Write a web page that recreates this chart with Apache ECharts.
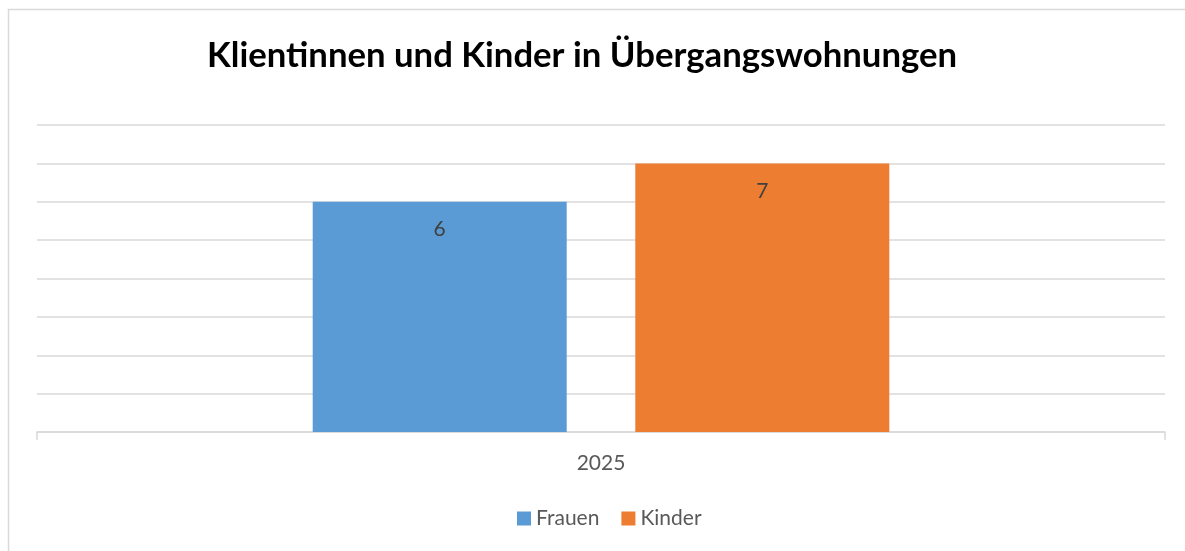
<!DOCTYPE html>
<html>
<head>
<meta charset="utf-8">
<script src="https://cdn.jsdelivr.net/npm/echarts@6/dist/echarts.min.js"></script>
<style>
	html, body { margin: 0; padding: 0; background: #fff; }
	#chart { width: 1185px; height: 551px; }
</style>
</head>
<body>
<div id="chart"></div>
<script>
var categories = ['2025'];
var frauen = [6];
var kinder = [7];
var yTicks = [0, 1, 2, 3, 4, 5, 6, 7, 8];

var chart = echarts.init(document.getElementById('chart'));

var labelStyle = {
	show: true,
	position: 'insideTop',
	distance: 17,
	color: '#404040',
	fontSize: 21,
	fontFamily: 'Lato'
};

var option = {
	animation: false,
	graphic: [{
		type: 'rect',
		shape: { x: 8.5, y: 9.5, width: 1200, height: 600 },
		style: { fill: 'none', stroke: '#D9D9D9', lineWidth: 1.5 },
		silent: true
	}],
	title: {
		text: 'Klientinnen und Kinder in Übergangswohnungen',
		left: 202,
		top: 33,
		textStyle: {
			fontFamily: 'Lato',
			fontWeight: 'bold',
			fontSize: 34.7,
			color: '#000'
		}
	},
	legend: {
		bottom: 17,
		left: 512,
		itemWidth: 14,
		itemHeight: 14,
		itemGap: 22,
		icon: 'rect',
		textStyle: { fontFamily: 'Lato', fontSize: 21, color: '#595959' },
		data: ['Frauen', 'Kinder']
	},
	grid: {
		left: 37,
		right: 20,
		top: 125,
		bottom: 119
	},
	xAxis: {
		type: 'category',
		data: categories,
		axisLine: { lineStyle: { color: '#D9D9D9', width: 1.5 } },
		axisTick: { show: true, length: 8, lineStyle: { color: '#D9D9D9', width: 1.5 } },
		axisLabel: { margin: 21, fontFamily: 'Lato', fontSize: 21, color: '#595959' }
	},
	yAxis: {
		type: 'value',
		min: yTicks[0],
		max: yTicks[yTicks.length - 1],
		interval: 1,
		axisLabel: { show: false },
		axisLine: { show: false },
		axisTick: { show: false },
		splitLine: { lineStyle: { color: '#D9D9D9', width: 1.5 } }
	},
	series: [
		{
			name: 'Frauen',
			type: 'bar',
			data: frauen,
			barWidth: 254,
			barGap: '27%',
			itemStyle: { color: '#5B9BD5' },
			label: labelStyle
		},
		{
			name: 'Kinder',
			type: 'bar',
			data: kinder,
			barWidth: 254,
			itemStyle: { color: '#ED7D31' },
			label: labelStyle
		}
	]
};

chart.setOption(option);
</script>
</body>
</html>
